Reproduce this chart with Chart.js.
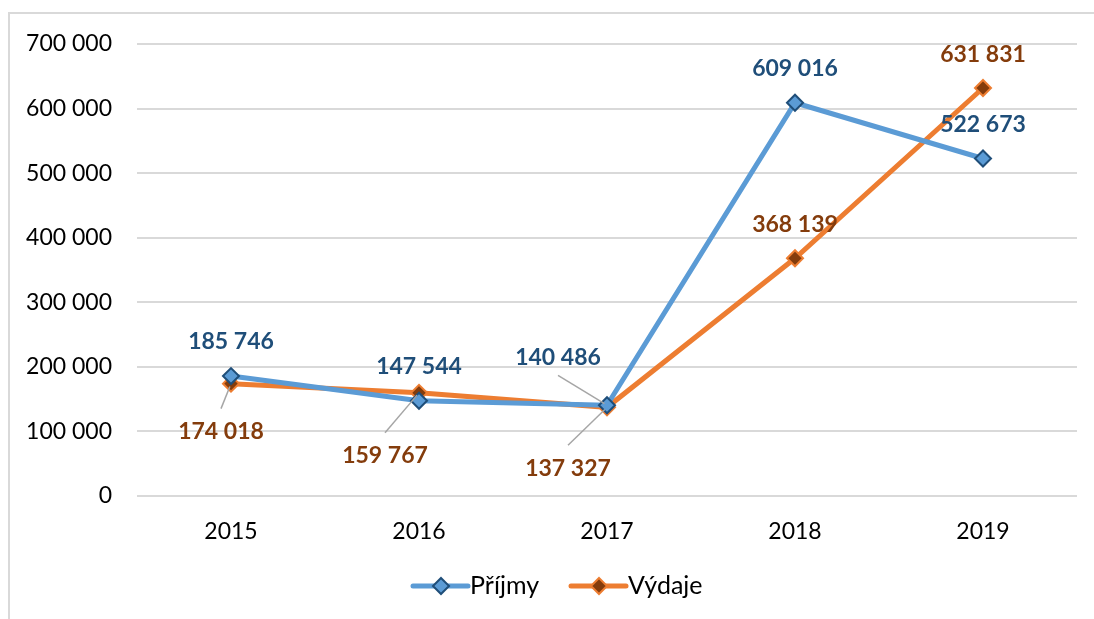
<!DOCTYPE html>
<html>
<head>
<meta charset="utf-8">
<script src="https://cdn.jsdelivr.net/npm/chart.js@4"></script>
<style>
  html, body { margin: 0; padding: 0; background: #fff; }
  #wrap { position: relative; width: 1094px; height: 619px; }
</style>
</head>
<body>
<div id="wrap"><canvas id="chart" width="1094" height="619"></canvas></div>
<script>
// ------------------- Data ------------------- //
const years = ["2015", "2016", "2017", "2018", "2019"];
const prijmy = [185746, 147544, 140486, 609016, 522673];
const vydaje = [174018, 159767, 137327, 368139, 631831];
const yTicks = [0, 100000, 200000, 300000, 400000, 500000, 600000, 700000];

// Where each data label sits relative to its point, and whether it gets a leader line
const prijmyLabelPos = [[0, -34, false], [0, -34, false], [-49, -48, true], [0, -34, false], [0, -34, false]];
const vydajeLabelPos = [[-10, 48, true], [-34, 63, true], [-39, 61, true], [0, -34, false], [0, -33, false]];

const FONT = "Lato, 'Liberation Sans', sans-serif";

// Format numbers with a space as thousands separator
function fmt(n) {
  return String(n).replace(/\B(?=(\d{3})+(?!\d))/g, " ");
}

// ------------------- Plugins ------------------- //

// Light frame on the left and top edges
const framePlugin = {
  id: "frame",
  beforeDraw(chart) {
    const ctx = chart.ctx;
    ctx.save();
    ctx.strokeStyle = "#D9D9D9";
    ctx.lineWidth = 2;
    ctx.beginPath();
    ctx.moveTo(9, 619);
    ctx.lineTo(9, 13);
    ctx.lineTo(1094, 13);
    ctx.stroke();
    ctx.restore();
  }
};

// Data labels with optional leader lines
const labelPlugin = {
  id: "dataLabels",
  afterDatasetsDraw(chart) {
    const ctx = chart.ctx;
    const sets = [
      { meta: chart.getDatasetMeta(0), data: prijmy, pos: prijmyLabelPos, color: "#1F4E79" },
      { meta: chart.getDatasetMeta(1), data: vydaje, pos: vydajeLabelPos, color: "#843C0C" },
    ];
    ctx.save();
    ctx.font = "bold 23px " + FONT;
    ctx.textAlign = "center";
    ctx.textBaseline = "middle";
    sets.forEach((s) => {
      s.meta.data.forEach((pt, i) => {
        const [dx, dy, leader] = s.pos[i];
        const lx = pt.x + dx;
        const ly = pt.y + dy;
        if (leader) {
          const sx = lx;
          const sy = ly + (dy > 0 ? -23 : 18);
          const vx = pt.x - sx, vy = pt.y - sy;
          const len = Math.hypot(vx, vy);
          ctx.strokeStyle = "#A6A6A6";
          ctx.lineWidth = 1.5;
          ctx.beginPath();
          ctx.moveTo(sx, sy);
          ctx.lineTo(pt.x - (vx / len) * 3, pt.y - (vy / len) * 3);
          ctx.stroke();
        }
        ctx.fillStyle = s.color;
        ctx.fillText(fmt(s.data[i]), lx, ly);
      });
    });
    ctx.restore();
  }
};

// Legend drawn as line + marker + text, centred at the bottom
const legendPlugin = {
  id: "customLegend",
  afterDraw(chart) {
    const ctx = chart.ctx;
    const y = 586;
    const items = [
      { x: 413, text: "Příjmy", line: "#5B9BD5", fill: "#5B9BD5", border: "#1F4E79" },
      { x: 571, text: "Výdaje", line: "#ED7D31", fill: "#843C0C", border: "#ED7D31" },
    ];
    ctx.save();
    items.forEach((it) => {
      ctx.strokeStyle = it.line;
      ctx.lineWidth = 5;
      ctx.lineCap = "round";
      ctx.beginPath();
      ctx.moveTo(it.x, y);
      ctx.lineTo(it.x + 55, y);
      ctx.stroke();
      const cx = it.x + 28, r = 8;
      ctx.fillStyle = it.fill;
      ctx.strokeStyle = it.border;
      ctx.lineWidth = 2;
      ctx.beginPath();
      ctx.moveTo(cx, y - r);
      ctx.lineTo(cx + r, y);
      ctx.lineTo(cx, y + r);
      ctx.lineTo(cx - r, y);
      ctx.closePath();
      ctx.fill();
      ctx.stroke();
      ctx.fillStyle = "#000";
      ctx.font = "25px " + FONT;
      ctx.textAlign = "left";
      ctx.textBaseline = "middle";
      ctx.fillText(it.text, it.x + 57, y);
    });
    ctx.restore();
  }
};

// ------------------- Chart ------------------- //
new Chart(document.getElementById("chart").getContext("2d"), {
  type: "line",
  data: {
    labels: years,
    datasets: [
      {
        label: "Příjmy",
        data: prijmy,
        borderColor: "#5B9BD5",
        borderWidth: 5,
        backgroundColor: "#5B9BD5",
        pointStyle: "rectRot",
        pointRadius: 8,
        pointBackgroundColor: "#5B9BD5",
        pointBorderColor: "#1F4E79",
        pointBorderWidth: 2,
        tension: 0,
      },
      {
        label: "Výdaje",
        data: vydaje,
        borderColor: "#ED7D31",
        borderWidth: 5,
        backgroundColor: "#ED7D31",
        pointStyle: "rectRot",
        pointRadius: 8,
        pointBackgroundColor: "#843C0C",
        pointBorderColor: "#ED7D31",
        pointBorderWidth: 2,
        tension: 0,
      },
    ],
  },
  options: {
    responsive: false,
    animation: false,
    layout: { padding: { left: 0, top: 44, right: 17, bottom: 0 } },
    plugins: {
      legend: { display: false },
      tooltip: { enabled: false },
    },
    scales: {
      x: {
        offset: true,
        grid: { display: false, drawTicks: false },
        border: { display: false },
        ticks: { color: "#000", font: { family: FONT, size: 23 }, padding: 22 },
        afterFit(scale) { scale.height = 123; },
      },
      y: {
        min: 0,
        max: 700000,
        afterBuildTicks(scale) { scale.ticks = yTicks.map((v) => ({ value: v })); },
        grid: { color: "#D9D9D9", lineWidth: 2, drawTicks: false },
        border: { display: false },
        ticks: {
          color: "#000",
          font: { family: FONT, size: 23 },
          padding: 25,
          callback: (v) => fmt(v),
        },
        afterFit(scale) { scale.width = 137; },
      },
    },
  },
  plugins: [framePlugin, labelPlugin, legendPlugin],
});
</script>
</body>
</html>
